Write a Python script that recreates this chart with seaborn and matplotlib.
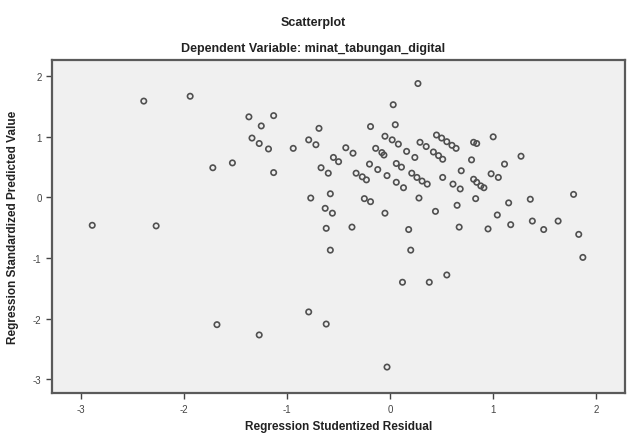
import matplotlib
matplotlib.use("Agg")
import matplotlib.pyplot as plt
import numpy as np
import pandas as pd
import seaborn as sns

# Regression Studentized Residual (x) vs Regression Standardized Predicted Value (y)
resid = [-2.89, -2.39, -2.27, -1.94, -1.72, -1.68, -1.53, -1.37, -1.34, -1.27,
         -1.25, -1.27, -1.18, -1.13, -1.13, -0.94, -0.79, -0.79, -0.77, -0.72,
         -0.69, -0.67, -0.63, -0.62, -0.62, -0.60, -0.58, -0.58, -0.56, -0.55,
         -0.50, -0.43, -0.37, -0.36, -0.33, -0.27, -0.25, -0.23, -0.20, -0.19,
         -0.19, -0.14, -0.12, -0.08, -0.06, -0.05, -0.05, -0.03, -0.03, 0.02,
         0.03, 0.05, 0.06, 0.06, 0.08, 0.11, 0.12, 0.13, 0.16, 0.18,
         0.20, 0.21, 0.24, 0.26, 0.27, 0.28, 0.29, 0.31, 0.35, 0.36,
         0.38, 0.42, 0.44, 0.45, 0.47, 0.50, 0.51, 0.51, 0.55, 0.55,
         0.60, 0.61, 0.64, 0.65, 0.67, 0.68, 0.69, 0.79, 0.81, 0.81,
         0.83, 0.84, 0.84, 0.88, 0.91, 0.95, 0.98, 1.00, 1.04, 1.05,
         1.11, 1.15, 1.17, 1.27, 1.36, 1.38, 1.49, 1.63, 1.78, 1.83,
         1.87]
pred = [-0.46, 1.59, -0.47, 1.67, 0.49, -2.10, 0.57, 1.33, 0.98, 0.89,
        1.18, -2.27, 0.80, 1.35, 0.41, 0.81, 0.95, -1.89, -0.01, 0.87,
        1.14, 0.49, -0.18, -0.51, -2.09, 0.40, 0.06, -0.87, -0.26, 0.66,
        0.59, 0.82, -0.49, 0.73, 0.40, 0.34, -0.02, 0.29, 0.55, 1.17,
        -0.07, 0.81, 0.46, 0.74, 0.70, 1.01, -0.26, 0.36, -2.80, 0.95,
        1.53, 1.20, 0.56, 0.25, 0.88, 0.50, -1.40, 0.16, 0.76, -0.53,
        -0.87, 0.40, 0.66, 0.33, 1.88, -0.01, 0.91, 0.27, 0.84, 0.22,
        -1.40, 0.75, -0.23, 1.03, 0.69, 0.98, 0.63, 0.33, 0.92, -1.28,
        0.86, 0.22, 0.81, -0.13, -0.49, 0.14, 0.44, 0.62, 0.91, 0.30,
        -0.02, 0.89, 0.25, 0.19, 0.16, -0.52, 0.39, 1.00, -0.29, 0.33,
        0.55, -0.09, -0.45, 0.68, -0.03, -0.39, -0.53, -0.39, 0.05, -0.61,
        -0.99]

ticks = [-3, -2, -1, 0, 1, 2]

df = pd.DataFrame({"resid": resid, "pred": pred})

sns.set_style("ticks", {"axes.facecolor": "#f0f0f0", "axes.edgecolor": "#5a5a5a"})
plt.rcParams["font.family"] = ["Liberation Sans", "DejaVu Sans"]
plt.rcParams["axes.unicode_minus"] = False

fig = plt.figure(figsize=(6.27, 4.35), dpi=100)
ax = fig.add_axes([0.083, 0.094, 0.914, 0.766])

sns.scatterplot(data=df, x="resid", y="pred", ax=ax, marker="o", s=15,
                facecolor="none", edgecolor="#505050", linewidth=1.2)

ax.set_xlim(-3.28, 2.28)
ax.set_ylim(-3.23, 2.27)
ax.set_xticks(ticks)
ax.set_yticks(ticks)
ax.tick_params(axis="both", labelsize=7, colors="#444444", length=4, width=1,
               direction="out")
for s in ax.spines.values():
    s.set_linewidth(1.6)
    s.set_color("#5a5a5a")

ax.set_xlabel("Regression Studentized Residual", fontsize=8.5,
              fontweight="bold", color="#222222", labelpad=5)
ax.set_ylabel("Regression Standardized Predicted Value", fontsize=8.5,
              fontweight="bold", color="#222222", labelpad=10)

fig.text(0.5, 0.947, "Scatterplot", ha="center", va="center",
         fontsize=9, fontweight="bold", color="#222222")
fig.text(0.5, 0.888, "Dependent Variable: minat_tabungan_digital",
         ha="center", va="center", fontsize=9, fontweight="bold",
         color="#222222")

fig.savefig("out.png", dpi=100)
